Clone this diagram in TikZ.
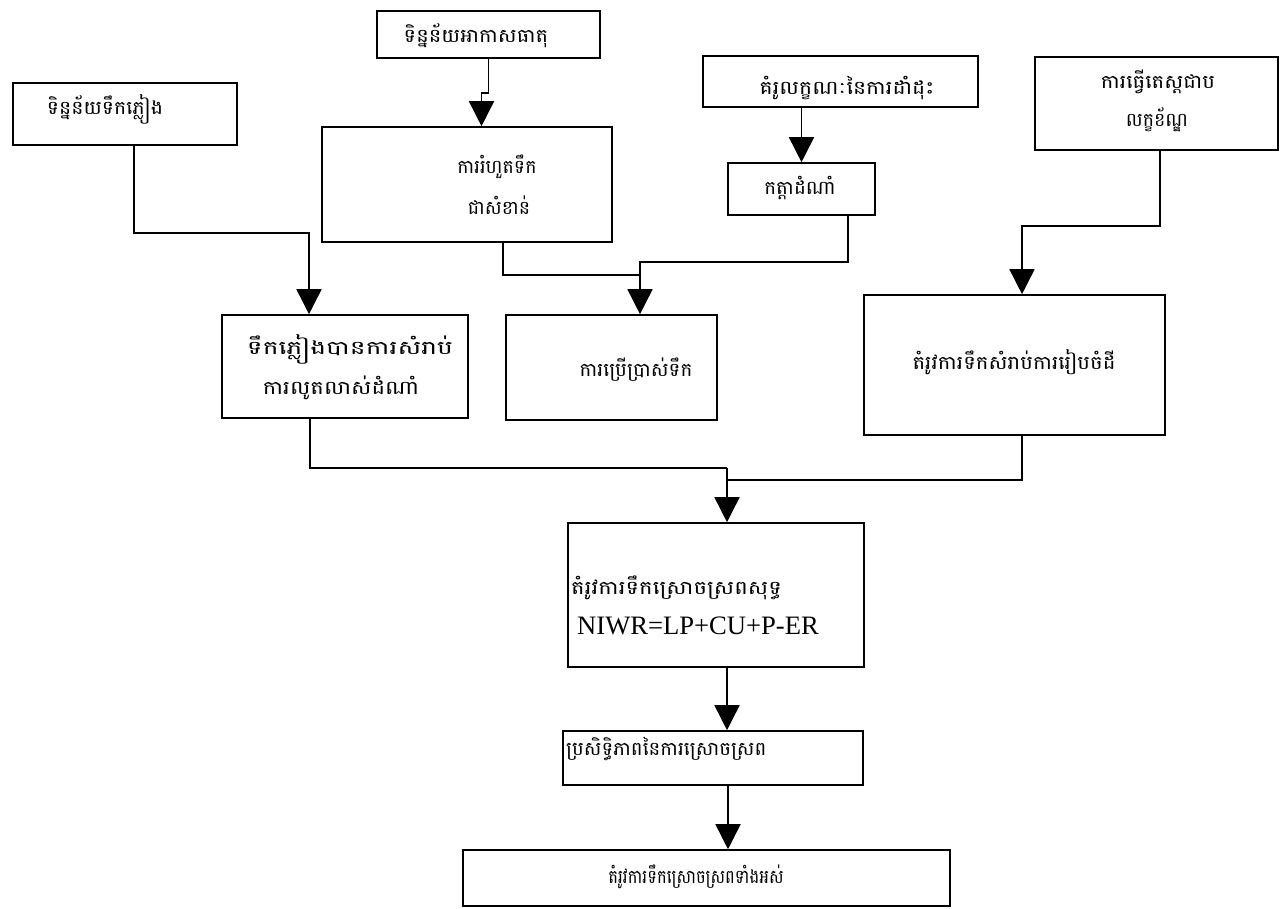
\documentclass[tikz,border=0pt]{standalone}
\usepackage{fontspec}
\newfontfamily\kh[Script=Khmer]{Battambang}
\newfontfamily\tnr{Liberation Serif}
\usetikzlibrary{arrows.meta}
\begin{document}
\begin{tikzpicture}[x=1pt,y=-1pt,
  box/.style={draw,line width=1.6pt,rectangle,inner sep=0pt},
  txt/.style={font=\kh\fontsize{19}{22}\selectfont,inner sep=0pt},
  conn/.style={line width=1.6pt},
  arr/.style={line width=1.6pt,-{Triangle[width=25pt,length=25pt]}}]
\useasboundingbox (0,0) rectangle (1288,908);
\fill[white] (0,0) rectangle (1288,908);
% boxes
\node[box,minimum width=223pt,minimum height=47pt] (A) at (488.5,34.5) {};
\node[box,minimum width=224pt,minimum height=62pt] (B) at (125,114) {};
\node[box,minimum width=290pt,minimum height=115pt] (C) at (467,184.5) {};
\node[box,minimum width=275pt,minimum height=51pt] (D) at (840.5,81.5) {};
\node[box,minimum width=147pt,minimum height=52pt] (E) at (801.5,189) {};
\node[box,minimum width=243pt,minimum height=93pt] (F) at (1156.5,103.5) {};
\node[box,minimum width=246pt,minimum height=103pt] (G) at (345,366.5) {};
\node[box,minimum width=211pt,minimum height=105pt] (H) at (611.5,367.5) {};
\node[box,minimum width=301pt,minimum height=140pt] (I) at (1014.5,365) {};
\node[box,minimum width=296pt,minimum height=144pt] (J) at (716,595) {};
\node[box,minimum width=300pt,minimum height=54pt] (K) at (713,758) {};
\node[box,minimum width=487pt,minimum height=56pt] (L) at (706.5,878) {};
% texts
\node[txt,xscale=1.11] (At) at (476,36) {ទិន្នន័យអាកាសធាតុ};
\node[txt,xscale=1.08] (Bt) at (105,109) {ទិន្នន័យទឹកភ្លៀង};
\node[txt] (Ct1) at (497,167) {ការរំហួតទឹក};
\node[txt] (Ct2) at (499,205) {ជាសំខាន់};
\node[txt,xscale=1.16] (Dt) at (847,88) {គំរូលក្ខណៈនៃការដាំដុះ};
\node[txt,xscale=1.05] (Et) at (800,188) {កត្តាដំណាំ};
\node[txt,xscale=1.12] (Ft1) at (1158,82) {ការធ្វើតេស្តជាប};
\node[txt] (Ft2) at (1157,120) {លក្ខខ័ណ្ឌ};
\node[txt,xscale=1.4] (Gt1) at (350,349) {ទឹកភ្លៀងបានការសំរាប់};
\node[txt,xscale=1.2] (Gt2) at (341,388) {ការលូតលាស់ដំណាំ};
\node[txt,xscale=1.05] (Ht) at (636,370) {ការប្រើប្រាស់ទឹក};
\node[txt,xscale=1.12] (It) at (1014,362) {តំរូវការទឹកសំរាប់ការរៀបចំដី};
\node[txt,anchor=west,xscale=1.2] (Jt1) at (571,588) {តំរូវការទឹកស្រោចស្រពសុទ្ធ};
\node[font=\tnr\fontsize{26.6}{30}\selectfont,inner sep=0pt,anchor=west] (Jt2) at (577,626) {NIWR=LP+CU+P-ER};
\node[txt,anchor=west,xscale=1.04] (Kt) at (566,749) {ប្រសិទ្ធិភាពនៃការស្រោចស្រព};
\node[txt,xscale=0.86] (Lt) at (696,877) {តំរូវការទឹកស្រោចស្រពទាំងអស់};
% connectors
\coordinate (m1) at (727,468);
\coordinate (m2) at (640,275);
\draw[arr] (A.south) -- ++(0,34) -| ([xshift=14.5pt]C.north);
\draw[arr] ([xshift=9pt]B.south) -- ++(0,87) -| ([xshift=-36pt]G.north);
\draw[arr] ([xshift=36pt]C.south) |- (m2) -- ([xshift=28.5pt]H.north);
\draw[conn] ([xshift=46.5pt]E.south) |- (640,262) -- (m2);
\draw[arr] (D.south -| E.north) -- (E.north);
\draw[arr] ([xshift=3.5pt]F.south) -- ++(0,75) -| ([xshift=7.5pt]I.north);
\draw[conn] ([xshift=-35pt]G.south) |- (m1);
\draw[conn] ([xshift=28.5pt]H.south) -- (H.south -| 640,468);
\draw[conn] ([xshift=7.5pt]I.south) |- (727,480);
\draw[arr] (m1) -- ([xshift=11pt]J.north);
\draw[arr] ([xshift=11pt]J.south) -- ([xshift=14pt]K.north);
\draw[arr] ([xshift=15pt]K.south) -- ([xshift=21.5pt]L.north);
\end{tikzpicture}
\end{document}
